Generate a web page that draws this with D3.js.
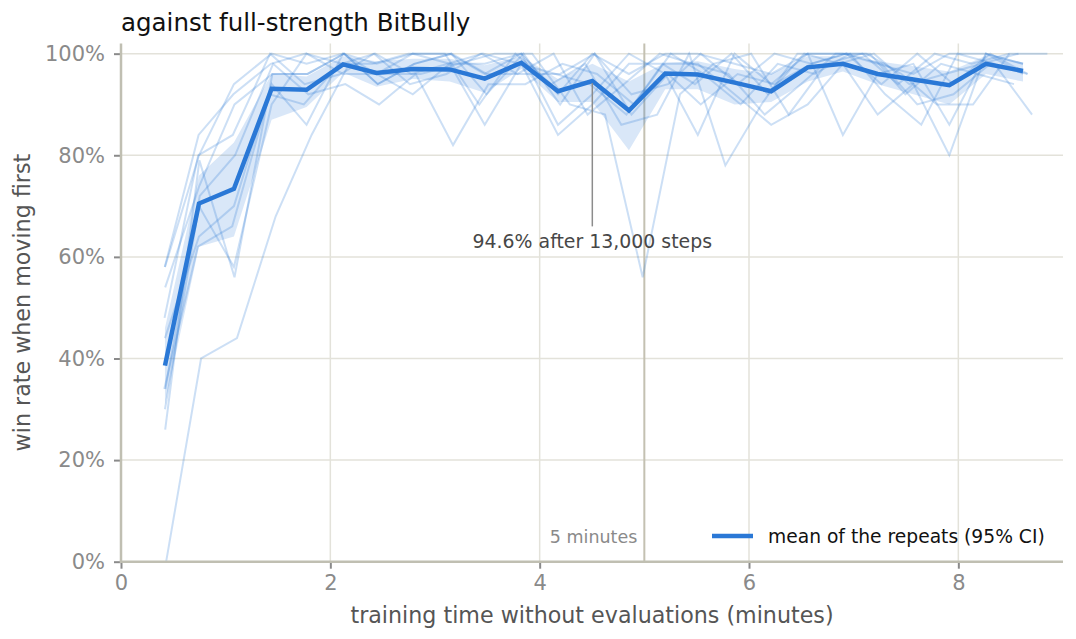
<!DOCTYPE html>
<html>
<head>
<meta charset="utf-8">
<script src="https://cdn.jsdelivr.net/npm/d3@7"></script>
<style>
  html, body { margin: 0; padding: 0; background: #fff; }
  svg { display: block; font-family: "DejaVu Sans", sans-serif; }
</style>
</head>
<body>
<svg id="chart" width="1076" height="639"></svg>
<script>
'use strict';

// training time (minutes) of each evaluation point, averaged over repeats
var meanTime = [0.420, 0.745, 1.079, 1.439, 1.773, 2.122, 2.441, 2.788, 3.141, 3.475, 3.825, 4.175,
  4.503, 4.853, 5.200, 5.511, 5.862, 6.212, 6.561, 6.897, 7.229, 7.570, 7.914, 8.264, 8.618];

// mean win rate (%) and its 95% CI
var meanWin = [38.6, 70.5, 73.4, 93.1, 92.9, 97.9, 96.2, 97.0, 96.9, 95.1, 98.2, 92.6,
  94.6, 88.8, 96.1, 95.9, 94.3, 92.6, 97.3, 98.0, 96.0, 94.9, 93.8, 98.0, 96.6];
var ciLow = [31, 62, 64, 87, 89.5, 96.3, 93.5, 95, 94.5, 92.3, 97, 90.5,
  90.5, 81, 93, 93, 90, 90.5, 94.5, 96.5, 94, 92, 90, 96, 94.5];
var ciHigh = [46, 76, 82.5, 96, 95.5, 99.5, 98.5, 99, 99, 97.7, 99.5, 95,
  98, 94.5, 98.2, 98.5, 97, 96, 99.5, 99.5, 98.5, 97.5, 96.5, 99.6, 98.2];

// individual repeats (win rate %), one row per repeat
var repeats = [
  [58, 80, 94, 100, 98, 100, 98, 100, 100, 96, 100, 92, 100, 96, 100, 100, 98, 96, 100, 100, 98, 96, 100, 100, 98],
  [58, 84, 92, 98, 100, 98, 100, 96, 98, 100, 98, 96, 94, 88, 98, 94, 100, 92, 100, 98, 100, 94, 96, 98, 100],
  [54, 74, 90, 96, 96, 100, 94, 98, 100, 92, 100, 90, 100, 92, 94, 100, 94, 100, 98, 100, 94, 100, 94, 100, 96],
  [48, 80, 84, 100, 94, 96, 100, 94, 96, 100, 96, 100, 88, 94, 100, 98, 96, 88, 94, 100, 100, 92, 98, 96, 94],
  [44, 64, 70, 94, 86, 100, 96, 100, 98, 98, 100, 86, 92, 100, 96, 84, 100, 94, 100, 84, 96, 98, 86, 100, 96],
  [34, 72, 80, 98, 92, 94, 90, 96, 82, 94, 94, 98, 96, 90, 100, 96, 90, 98, 96, 100, 92, 86, 100, 98, 88],
  [34, 62, 66, 92, 90, 98, 98, 100, 100, 90, 100, 94, 98, 86, 88, 100, 78, 90, 100, 100, 100, 96, 90, 90, 100],
  [30, 70, 58, 90, 100, 96, 96, 92, 98, 86, 98, 84, 90, 98, 98, 98, 92, 86, 90, 98, 88, 94, 80, 100, 98],
  [26, 79, 56, 96, 96, 100, 94, 98, 100, 96, 96, 96, 100, 88, 96, 90, 96, 94, 98, 100, 98, 90, 92, 98, 96],
  [0, 40, 44, 68, 84, 98, 96, 96, 98, 100, 100, 90, 88, 56, 92, 98, 100, 88, 98, 100, 94, 100, 98, 100, 100]
];
// relative pace of each repeat (its time axis vs the mean time axis)
var repeatScale = [1.0, 0.995, 1.005, 0.99, 1.0, 1.01, 0.985, 1.0, 1.005, 1.027];

var xTicks = [0, 2, 4, 6, 8];
var yTicks = [0, 20, 40, 60, 80, 100];
var markerTime = 5;
var annotateIndex = 12;
var annotateSteps = '13,000';

var blue = '#2a78d6';
var margin = {left: 121, right: 13, top: 43.5, bottom: 77.3};
var width = 1076, height = 639;

var svg = d3.select('#chart');

var x = d3.scaleLinear().domain([0, 9]).range([margin.left, width - margin.right]);
var y = d3.scaleLinear().domain([0, 102]).range([height - margin.bottom, margin.top]);

// grid
var grid = svg.append('g');
grid.selectAll('line.v').data(xTicks.filter(function (d) { return d > 0; })).enter().append('line')
  .attr('x1', x).attr('x2', x).attr('y1', y(102)).attr('y2', y(0))
  .style('stroke', '#e3e2da').style('stroke-width', 1.5);
grid.selectAll('line.h').data(yTicks.filter(function (d) { return d > 0; })).enter().append('line')
  .attr('x1', x(0)).attr('x2', x(9)).attr('y1', y).attr('y2', y)
  .style('stroke', '#e3e2da').style('stroke-width', 1.5);

// 5 minutes marker
svg.append('line')
  .attr('x1', x(markerTime)).attr('x2', x(markerTime)).attr('y1', y(102)).attr('y2', y(0))
  .style('stroke', '#c4c1b2').style('stroke-width', 2);
svg.append('text')
  .attr('x', x(markerTime) - 7).attr('y', y(0) - 19)
  .attr('text-anchor', 'end')
  .style('font-size', '17.5px').style('fill', '#8a8a8a')
  .text('5 minutes');

// CI band
var band = d3.area()
  .x(function (d, i) { return x(meanTime[i]); })
  .y0(function (d, i) { return y(ciLow[i]); })
  .y1(function (d, i) { return y(ciHigh[i]); });
svg.append('path')
  .attr('d', band(meanTime))
  .style('fill', blue).style('fill-opacity', 0.18).style('stroke', 'none');

// repeats
var repeatLine = d3.line()
  .x(function (d) { return x(d[0]); })
  .y(function (d) { return y(d[1]); });
svg.append('g').selectAll('path').data(repeats).enter().append('path')
  .attr('d', function (row, r) {
    return repeatLine(row.map(function (v, i) { return [meanTime[i] * repeatScale[r], v]; }));
  })
  .style('fill', 'none').style('stroke', blue).style('stroke-opacity', 0.24)
  .style('stroke-width', 2).style('stroke-linejoin', 'miter');

// mean
var meanLine = d3.line()
  .x(function (d, i) { return x(meanTime[i]); })
  .y(function (d) { return y(d); });
svg.append('path')
  .attr('d', meanLine(meanWin))
  .style('fill', 'none').style('stroke', blue).style('stroke-width', 4.5)
  .style('stroke-linejoin', 'miter');

// annotation
var ax = x(meanTime[annotateIndex]);
svg.append('line')
  .attr('x1', ax).attr('x2', ax)
  .attr('y1', y(meanWin[annotateIndex]) + 2).attr('y2', y(66))
  .style('stroke', '#8c8c8c').style('stroke-width', 1.5);
svg.append('text')
  .attr('x', ax).attr('y', y(61.8))
  .attr('text-anchor', 'middle')
  .style('font-size', '18.9px').style('fill', '#474747')
  .text(d3.format('.1f')(meanWin[annotateIndex]) + '% after ' + annotateSteps + ' steps');

// axes
var xAxis = svg.append('g')
  .attr('transform', 'translate(0,' + y(0) + ')')
  .call(d3.axisBottom(x).tickValues(xTicks).tickSize(7).tickPadding(6).tickFormat(d3.format('d')));
var yAxis = svg.append('g')
  .attr('transform', 'translate(' + x(0) + ',0)')
  .call(d3.axisLeft(y).tickValues(yTicks).tickSize(7).tickPadding(9).tickFormat(function (d) { return d + '%'; }));
[xAxis, yAxis].forEach(function (g) {
  g.select('.domain').remove();
  g.selectAll('.tick line').style('stroke', '#8a8a8a').style('stroke-width', 2);
  g.selectAll('.tick text').style('font-family', '"DejaVu Sans", sans-serif')
    .style('font-size', '21px').style('fill', '#8a8a8a');
});

// spines
svg.append('line')
  .attr('x1', x(0)).attr('x2', x(0)).attr('y1', y(102)).attr('y2', y(0))
  .style('stroke', '#c0bfb2').style('stroke-width', 2.5);
svg.append('line')
  .attr('x1', x(0) - 1.25).attr('x2', x(9)).attr('y1', y(0)).attr('y2', y(0))
  .style('stroke', '#c0bfb2').style('stroke-width', 2.5);

// labels
svg.append('text')
  .attr('x', margin.left).attr('y', 31)
  .style('font-size', '24.5px').style('fill', '#111')
  .text('against full-strength BitBully');
svg.append('text')
  .attr('x', (x(0) + x(9)) / 2).attr('y', 623)
  .attr('text-anchor', 'middle')
  .style('font-size', '22.2px').style('fill', '#555')
  .text('training time without evaluations (minutes)');
svg.append('text')
  .attr('transform', 'translate(30,' + ((y(0) + y(102)) / 2) + ') rotate(-90)')
  .attr('text-anchor', 'middle')
  .style('font-size', '22.2px').style('fill', '#555')
  .text('win rate when moving first');

// legend
var lg = svg.append('g').attr('transform', 'translate(712,536)');
lg.append('line').attr('x1', 0).attr('x2', 41).attr('y1', 0).attr('y2', 0)
  .style('stroke', blue).style('stroke-width', 4.5);
lg.append('text').attr('x', 56).attr('y', 7)
  .style('font-size', '18.7px').style('fill', '#111')
  .text('mean of the repeats (95% CI)');
</script>
</body>
</html>
